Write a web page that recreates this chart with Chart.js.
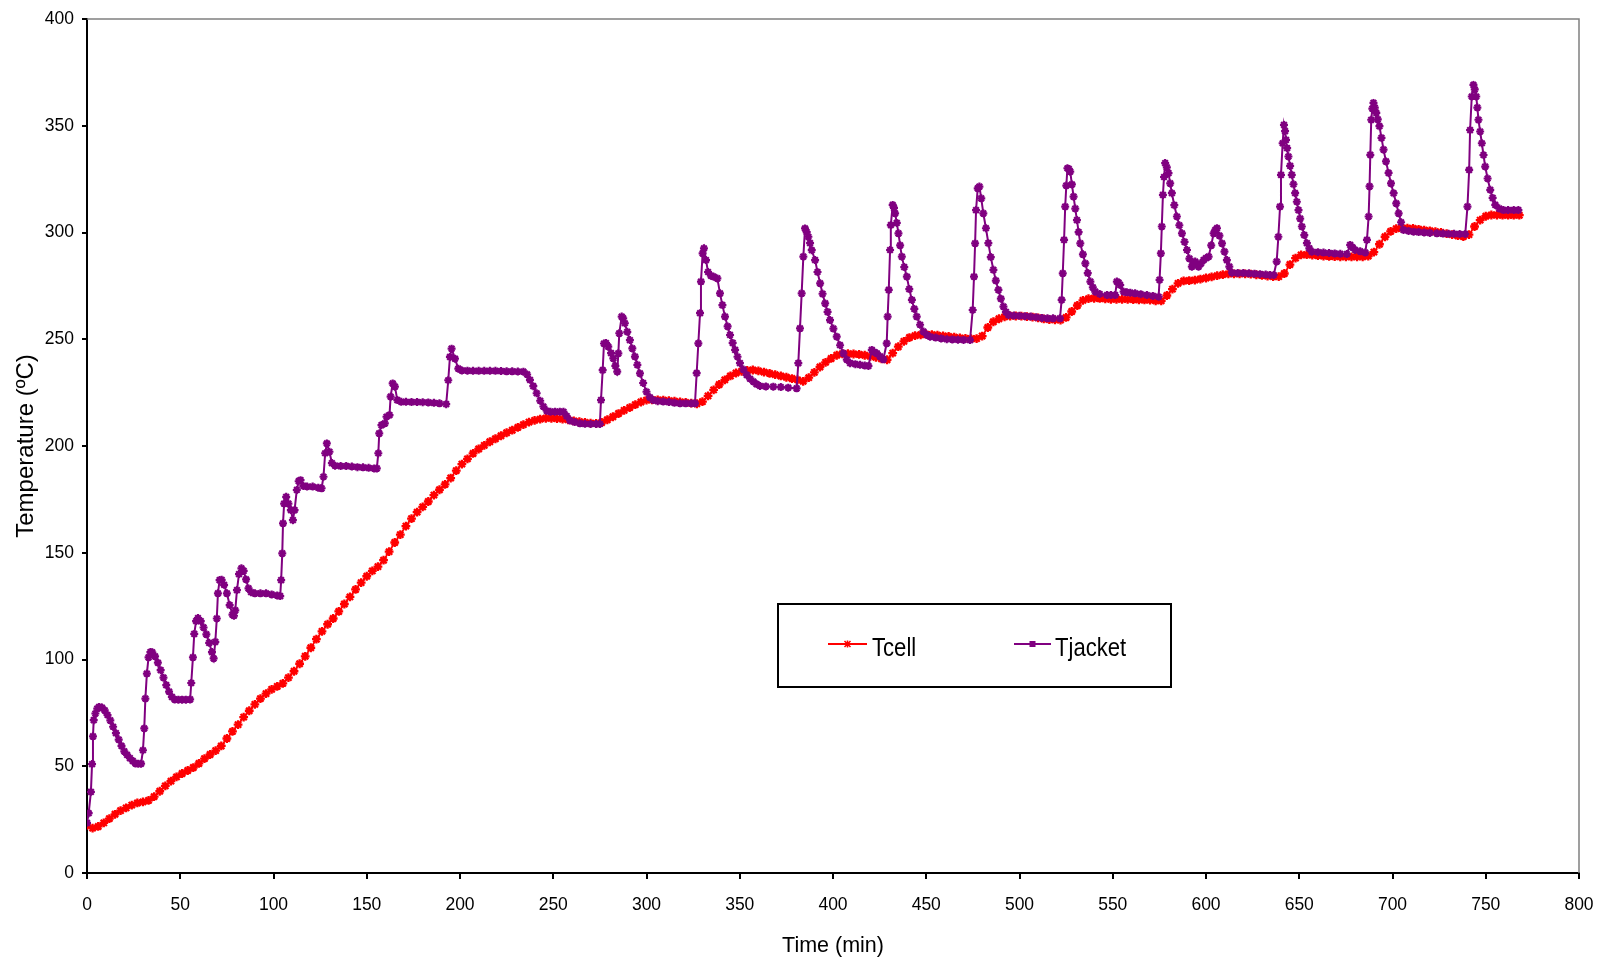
<!DOCTYPE html>
<html>
<head>
<meta charset="utf-8">
<script src="https://cdn.jsdelivr.net/npm/chart.js@4.4.1/dist/chart.umd.min.js"></script>
<style>
  html, body { margin: 0; padding: 0; background: #ffffff; overflow: hidden; }
  #wrap { width: 1602px; height: 961px; }
  canvas { display: block; }
</style>
</head>
<body>
<div id="wrap"><canvas id="c" width="1602" height="961"></canvas></div>
<script>
// ---------- DATA ----------
const seriesNames = ["Tcell", "Tjacket"];

const tcellTime = [
  0,3,6,9,12,15,18,21,24,27,30,33,36,39,42,45,48,51,54,57,
  60,63,66,69,72,75,78,81,84,87,90,93,96,99,102,105,108,111,114,117,
  120,123,126,129,132,135,138,141,144,147,150,153,156,159,162,165,168,171,174,177,
  180,183,186,189,192,195,198,201,204,207,210,213,216,219,222,225,228,231,234,237,
  240,243,246,249,252,255,258,261,264,267,270,273,276,279,282,285,288,291,294,297,
  300,303,306,309,312,315,318,321,324,327,330,333,336,339,342,345,348,351,354,357,
  360,363,366,369,372,375,378,381,384,387,390,393,396,399,402,405,408,411,414,417,
  420,423,426,429,432,435,438,441,444,447,450,453,456,459,462,465,468,471,474,477,
  480,483,486,489,492,495,498,501,504,507,510,513,516,519,522,525,528,531,534,537,
  540,543,546,549,552,555,558,561,564,567,570,573,576,579,582,585,588,591,594,597,
  600,603,606,609,612,615,618,621,624,627,630,633,636,639,642,645,648,651,654,657,
  660,663,666,669,672,675,678,681,684,687,690,693,696,699,702,705,708,711,714,717,
  720,723,726,729,732,735,738,741,744,747,750,753,756,759,762,765,768
];
const tcellTemp = [
  22.3,21,21.8,23.5,25.5,27.5,29.2,30.5,31.8,32.8,33.3,34,35.8,38.3,40.8,43,45,46.6,48,49.4,
  51.3,53.6,55.5,57.3,59.5,63,66.3,69.5,73,76,79,81.7,84,86,87.4,88.8,91.5,94.5,98,101.5,
  105.5,109.5,113.2,116.5,119.2,122.5,126,129.3,132.8,136,139,141.5,143.5,146.5,150.5,154.8,158.5,162.5,166,169,
  171.5,174,177,179.5,182,185,188.5,191.5,194,196.5,198.6,200.3,202,203.4,204.8,206.2,207.4,208.7,210,211.2,
  212,212.6,213,213,212.8,212.6,212.3,211.8,211.4,211,210.7,210.6,211,212.3,213.7,215.2,216.7,218,219.4,220.6,
  221.5,221.6,221.6,221.5,221.2,221,220.7,220.4,220.1,219.8,220.8,223.5,226.3,228.8,231,232.8,234.2,235,235.4,235.6,
  235.2,234.6,234,233.4,232.8,232.2,231.6,231,230.3,232,234.5,237,239.2,241,242.5,243.2,243.2,243.1,242.9,242.5,
  242,241.5,240.8,240.4,243.5,246.5,249,250.8,251.7,252.1,252.3,252.2,251.9,251.6,251.3,251,250.6,250.4,250.3,250.3,
  251.5,255.5,258.2,259.6,260.5,260.9,260.9,260.8,260.6,260.4,260,259.5,259.2,259.1,259,260.2,263,265.8,268.2,269,
  269.2,269.1,268.9,268.7,268.7,268.7,268.7,268.6,268.5,268.4,268.3,268,268,270.5,273.5,276.2,277.3,277.5,277.7,278.2,
  278.7,279.2,279.8,280.3,280.6,280.6,280.6,280.6,280.5,280.2,279.9,279.6,279.4,279.3,280.8,285,288,289.5,289.6,289.4,
  289.2,289,288.8,288.7,288.6,288.6,288.6,288.6,288.6,289,290.8,294.5,298,300.5,301.8,302,302,301.9,301.5,301.1,
  300.8,300.4,300,299.5,299,298.5,298.1,299,302.8,305.8,307.6,308.2,308.2,308.1,308.1,308.1,308.1
];

const tjacketTime = [
  0,0.9,2.1,2.7,3.2,3.6,4.5,5.5,6.5,8,
  9.5,11,12.5,14,15.5,17,18.5,20,21.5,23,
  24.5,26,27.5,29,30,30.7,31.3,32.1,33,34,
  35,36.5,38,39.5,41,42.5,44,45.5,47,49,
  51,53,55.3,55.9,56.8,57.5,58.5,59.5,61,62.5,
  64,65.5,67,67.9,68.8,69.6,70.2,71.1,72.2,73.5,
  75,76.5,78,78.8,79.5,80.4,81.5,82.8,84,85.3,
  86.6,88,90,93,96,99,102,103.6,104.1,104.7,
  105.1,105.7,106.8,108,109.3,110.4,111.3,112.5,113.5,114.5,
  116,118,121,124,125.8,126.8,127.7,128.6,130,131.3,
  133,136,139,142,145,148,151,154,155.4,156.2,
  156.7,157.9,159.7,160.6,162.2,162.8,163.9,165.1,166.4,168.5,
  171,174,177,180,183,186,189,192.6,193.7,194.6,
  195.5,197.3,199.1,201,204,207,210,213,216,219,
  222,225,228,231,234,236,237.5,239.3,241.1,243,
  244.7,246.5,248.5,251,253.5,255.5,257.2,259,261.5,264.3,
  267,270,273,275,275.6,276.5,277.2,278.3,279.5,281,
  282.2,283.3,284.3,284.9,285.4,286.7,287.5,288.4,289.7,291.1,
  292.4,293.8,295.1,296.5,298.2,300,301.8,303.6,306,309,
  312,315,318,321,324,326,326.9,327.8,328.7,329.2,
  330.1,330.8,331.9,333,334.5,336,338,339.4,340.7,342.1,
  343.5,344.8,346.2,347.5,348.8,350.1,352,353.7,355.5,357.3,
  359,360.9,364,368,372,376,380.5,381.4,382.3,383.2,
  384.1,385,385.9,386.8,387.7,388.6,390.4,391.7,393.1,394.4,
  395.8,397.1,398.4,400.2,402,403.8,405.6,407.4,409.2,412,
  414.5,417,419,420.8,422,423.5,425.2,427,428.8,429.3,
  429.9,430.6,431,432,432.7,433.3,434.2,435.1,436,436.9,
  438.2,439.6,440.9,442.3,443.6,444.9,446.7,448.5,450.3,452.1,
  455,458,461,464,467,470,473.5,474.9,475.6,476.2,
  476.7,477.6,478.5,479.5,480.6,482,483.3,484.6,486,487.3,
  488.7,490,491.4,492.7,494.1,497,500,503,506,509,
  512,515,518,521.7,522.6,523.2,523.9,524.5,525.1,525.7,
  526.4,527.2,528.1,529,529.9,530.8,531.7,532.6,534,535.3,
  536.6,538,539.3,540.6,543,546.9,549,551.3,552.2,553.1,
  554,555.8,557.5,559.4,562,565,568.3,571.5,574.6,575.1,
  575.8,576.3,576.9,577.5,578.1,579,579.9,580.8,581.7,583,
  584.4,585.7,587.1,588.5,589.8,591.1,592.4,593.3,594.2,595.1,
  596,597.3,598.7,600,601.4,602.8,604.1,605,605.9,607.2,
  608.6,609.9,611.2,612.5,613.9,617,620,623,626,629,
  632,634.3,636.3,637.9,638.8,639.7,640.2,641.1,641.8,642.4,
  642.9,643.5,644.2,645.1,646,646.9,647.8,648.7,649.6,650.5,
  651.4,652.7,654.1,655.4,656.7,660,663,666,669,672,
  675.5,677.3,678.6,680,682.7,685.4,686.3,687.2,687.7,688.1,
  688.6,689.2,689.8,690.5,691.3,692.1,693,694.1,695.2,696.5,
  697.9,699.2,700.6,702,703.3,704.6,705.9,708.6,711.3,714,
  717,720,723.8,727,730,733,736,739,740.2,741.1,
  741.6,742.5,743.4,744.1,744.9,745.5,746.1,747,747.9,748.8,
  749.7,751,752.4,753.7,755.1,757.3,759.5,762,765,767.5
];
const tjacketTemp = [
  23.5,28,38,51,64,71.6,74.7,77,77.8,77.5,
  76.2,74,71.5,68.5,65.5,62.5,59.5,57,55.3,53.8,
  52.5,51.3,51.2,51.2,57.5,67.7,81.7,93.4,101,103.5,
  103.4,101.5,98.5,95,91.5,88,85,82.5,81.3,81.2,
  81.2,81.2,81.3,89,101,112,118,119.4,118,115,
  111.8,107.8,103.5,100.5,108.3,119.2,131,137.2,137.3,135,
  131,125.5,121,120.5,123,132.5,140,142.7,141.5,137.5,
  133.3,131.5,131,131,131,130.5,130,129.7,137.2,149.7,
  163.8,173,176.2,173,170,165.3,170,179.4,183.5,184,
  181.3,181,181,180.5,180.2,185.6,196.6,201.2,197.3,192,
  190.8,190.6,190.6,190.4,190.1,190,189.8,189.5,189.5,196.6,
  205.9,209.8,210.6,213.7,214.5,223.1,229.3,227.8,221.5,220.7,
  220.7,220.6,220.6,220.5,220.4,220.2,220,219.6,230.8,241.7,
  245.6,240.9,236.2,235.4,235.3,235.2,235.2,235.2,235.2,235.2,
  235.1,235,235,234.9,234.8,233.5,231,228,224.7,221.2,
  218.5,216.5,216.1,216.1,216.1,216,214,212,211.2,210.6,
  210.4,210.3,210.3,210.3,221.5,235.5,248,248.2,246.5,243.5,
  241,237.5,234.8,243.4,252.8,260.6,259.8,257.5,253.5,249.6,
  245.7,241.9,238,234,229.5,225.4,222.8,221.5,221,220.8,
  220.6,220.2,220,220,220,220,234.1,248.1,262.2,277,
  290.2,292.6,287.1,281.5,279.8,279.3,278.5,271.5,266,260.6,
  256,252,248.3,245,241.8,238.8,235.8,233.3,231.5,230.2,
  229,228.1,227.9,227.8,227.6,227.3,227,238.8,255.1,271.5,
  288.7,301.9,300.2,298,295,291.7,287.1,281.5,276.2,271.3,
  266.8,262.8,259,255,251.2,247.2,243.4,240.5,238.8,238.3,
  238,237.7,237.5,245,244,243.4,242,240.6,248.1,260.6,
  273.1,291.8,303.5,312.9,311.5,309,304.5,299.6,294,288.7,
  283.8,279.3,273.5,268.4,264.2,260.6,256.8,253.6,252,251.2,
  250.8,250.4,250,249.9,249.8,249.7,249.6,263.7,279.3,294.9,
  310.5,320.7,321.5,316,309,302,295,288.5,282.5,277.5,
  273.1,269,265.3,262.8,261.4,261.1,261,260.8,260.6,260.3,
  260,259.8,259.8,259.8,268.4,280.9,296.5,312.1,322,330.1,
  329.8,328.5,322.5,316.8,311.2,305.8,300.2,294.9,289.8,285.5,
  281,277,274.3,272.3,271.2,270.7,270.7,270.7,277,276.5,
  275.4,272.3,272,271.8,271.5,271.1,270.7,270.3,269.9,277.8,
  290.2,302.8,317.6,326,332.5,330.5,327.8,323,318.4,312.8,
  307.5,303.4,299.6,295.6,291.8,287.8,284,285.5,286.4,285,
  284,285.5,287.1,288,288.7,294,299.6,301.2,302,298.5,
  294.9,291,287.1,284,281.2,281,281,280.9,280.7,280.5,
  280.3,280.1,280.1,286.4,298,312.1,327,341.8,350.4,347.5,
  343.4,339.5,335.6,331.2,327,322.6,318.4,314.4,310.5,306.5,
  302.8,298.8,295,292.6,291,290.8,290.6,290.4,290.2,290,
  289.9,294.2,293,291.8,291.2,290.6,296.5,307.5,321.6,336.4,
  352.8,358,360.7,358.5,356,353,349.8,344.3,338.8,333.3,
  327.9,323,318.4,313.6,309,304.8,301.2,300.7,300.4,300.2,
  300,299.8,299.6,299.5,299.4,299.4,299.3,299.3,312.1,329.3,
  348,363.7,369.1,367,363.7,358.5,352.8,347.3,341.8,336.3,
  330.9,325.3,320,316.2,312.9,311.2,310.5,310.5,310.5,310.5
];

const xTitle = "Time (min)";
const yTitle = "Temperature (ºC)";
const xMin = 0, xMax = 800, xStep = 50;
const yMin = 0, yMax = 400, yStep = 50;

// ---------- STYLE ----------
const RED = "#FF0000";
const PURPLE = "#800080";
Chart.defaults.font.family = "'Liberation Sans', Arial, Helvetica, sans-serif";
Chart.defaults.color = "#000000";

function toPoints(xs, ys) { return xs.map((x, i) => ({ x: x, y: ys[i] })); }

// Excel-like frame (grey top/right edge) and boxed legend
const framePlugin = {
  id: "frame",
  afterDraw(chart) {
    const { ctx, chartArea: a } = chart;
    ctx.save();
    ctx.strokeStyle = "#808080";
    ctx.lineWidth = 1.5;
    ctx.beginPath();
    ctx.moveTo(a.left, a.top);
    ctx.lineTo(a.right, a.top);
    ctx.lineTo(a.right, a.bottom);
    ctx.stroke();

    // legend box
    const bx = 778, by = 604, bw = 393, bh = 83;
    ctx.fillStyle = "#ffffff";
    ctx.fillRect(bx, by, bw, bh);
    ctx.strokeStyle = "#000000";
    ctx.lineWidth = 2;
    ctx.strokeRect(bx, by, bw, bh);

    const ly = 644;
    const items = [
      { name: seriesNames[0], color: RED, x0: 828, x1: 867, tx: 872, marker: "star" },
      { name: seriesNames[1], color: PURPLE, x0: 1014, x1: 1051, tx: 1055, marker: "square" }
    ];
    items.forEach(it => {
      ctx.strokeStyle = it.color;
      ctx.lineWidth = 2;
      ctx.beginPath();
      ctx.moveTo(it.x0, ly);
      ctx.lineTo(it.x1, ly);
      ctx.stroke();
      const cx = (it.x0 + it.x1) / 2;
      if (it.marker === "square") {
        ctx.fillStyle = it.color;
        ctx.fillRect(cx - 3, ly - 3, 6, 6);
      } else {
        ctx.lineWidth = 1.5;
        ctx.beginPath();
        ctx.moveTo(cx - 3, ly - 3); ctx.lineTo(cx + 3, ly + 3);
        ctx.moveTo(cx - 3, ly + 3); ctx.lineTo(cx + 3, ly - 3);
        ctx.moveTo(cx, ly - 3.5); ctx.lineTo(cx, ly + 3.5);
        ctx.stroke();
      }
      ctx.save();
      ctx.fillStyle = "#000000";
      ctx.font = "26px 'Liberation Sans', Arial, sans-serif";
      ctx.textBaseline = "alphabetic";
      ctx.translate(it.tx, 656);
      ctx.scale(0.85, 1);
      ctx.fillText(it.name, 0, 0);
      ctx.restore();
    });
    ctx.restore();
  }
};

const chart = new Chart(document.getElementById("c"), {
  type: "line",
  data: {
    datasets: [
      {
        label: seriesNames[0],
        data: toPoints(tcellTime, tcellTemp),
        borderColor: RED,
        backgroundColor: RED,
        borderWidth: 1.75,
        pointStyle: "star",
        pointRadius: 4.4,
        pointBorderWidth: 2.3,
        pointBorderColor: RED,
        pointBackgroundColor: RED,
        tension: 0,
        order: 1
      },
      {
        label: seriesNames[1],
        data: toPoints(tjacketTime, tjacketTemp),
        borderColor: PURPLE,
        backgroundColor: PURPLE,
        borderWidth: 2,
        pointStyle: "star",
        pointRadius: 4,
        pointBorderWidth: 2.2,
        pointBorderColor: PURPLE,
        pointBackgroundColor: PURPLE,
        tension: 0,
        order: 0
      }
    ]
  },
  options: {
    responsive: false,
    animation: false,
    events: [],
    layout: { autoPadding: false, padding: { top: 19, right: 23, left: 0, bottom: 0 } },
    plugins: {
      legend: { display: false },
      tooltip: { enabled: false },
      title: { display: false }
    },
    scales: {
      x: {
        type: "linear",
        min: xMin, max: xMax,
        ticks: { stepSize: xStep, font: { size: 17.5, lineHeight: 2.8 }, color: "#000", padding: 2, maxRotation: 0, autoSkip: false },
        grid: { display: true, drawOnChartArea: false, drawTicks: true, tickLength: 6, color: "#000", lineWidth: 2 },
        border: { display: true, color: "#000", width: 2 },
        title: { display: true, text: xTitle, font: { size: 21.5 }, color: "#000", padding: { top: 0, bottom: 2 } },
        afterFit(scale) { scale.height = 88; }
      },
      y: {
        type: "linear",
        min: yMin, max: yMax,
        ticks: { stepSize: yStep, font: { size: 17.5 }, color: "#000", padding: 8 },
        grid: { display: true, drawOnChartArea: false, drawTicks: true, tickLength: 5, color: "#000", lineWidth: 2 },
        border: { display: true, color: "#000", width: 2 },
        title: { display: true, text: yTitle, font: { size: 24 }, color: "#000", padding: { top: 12, bottom: 0 } },
        afterFit(scale) { scale.width = 87; }
      }
    }
  },
  plugins: [framePlugin]
});
</script>
</body>
</html>
